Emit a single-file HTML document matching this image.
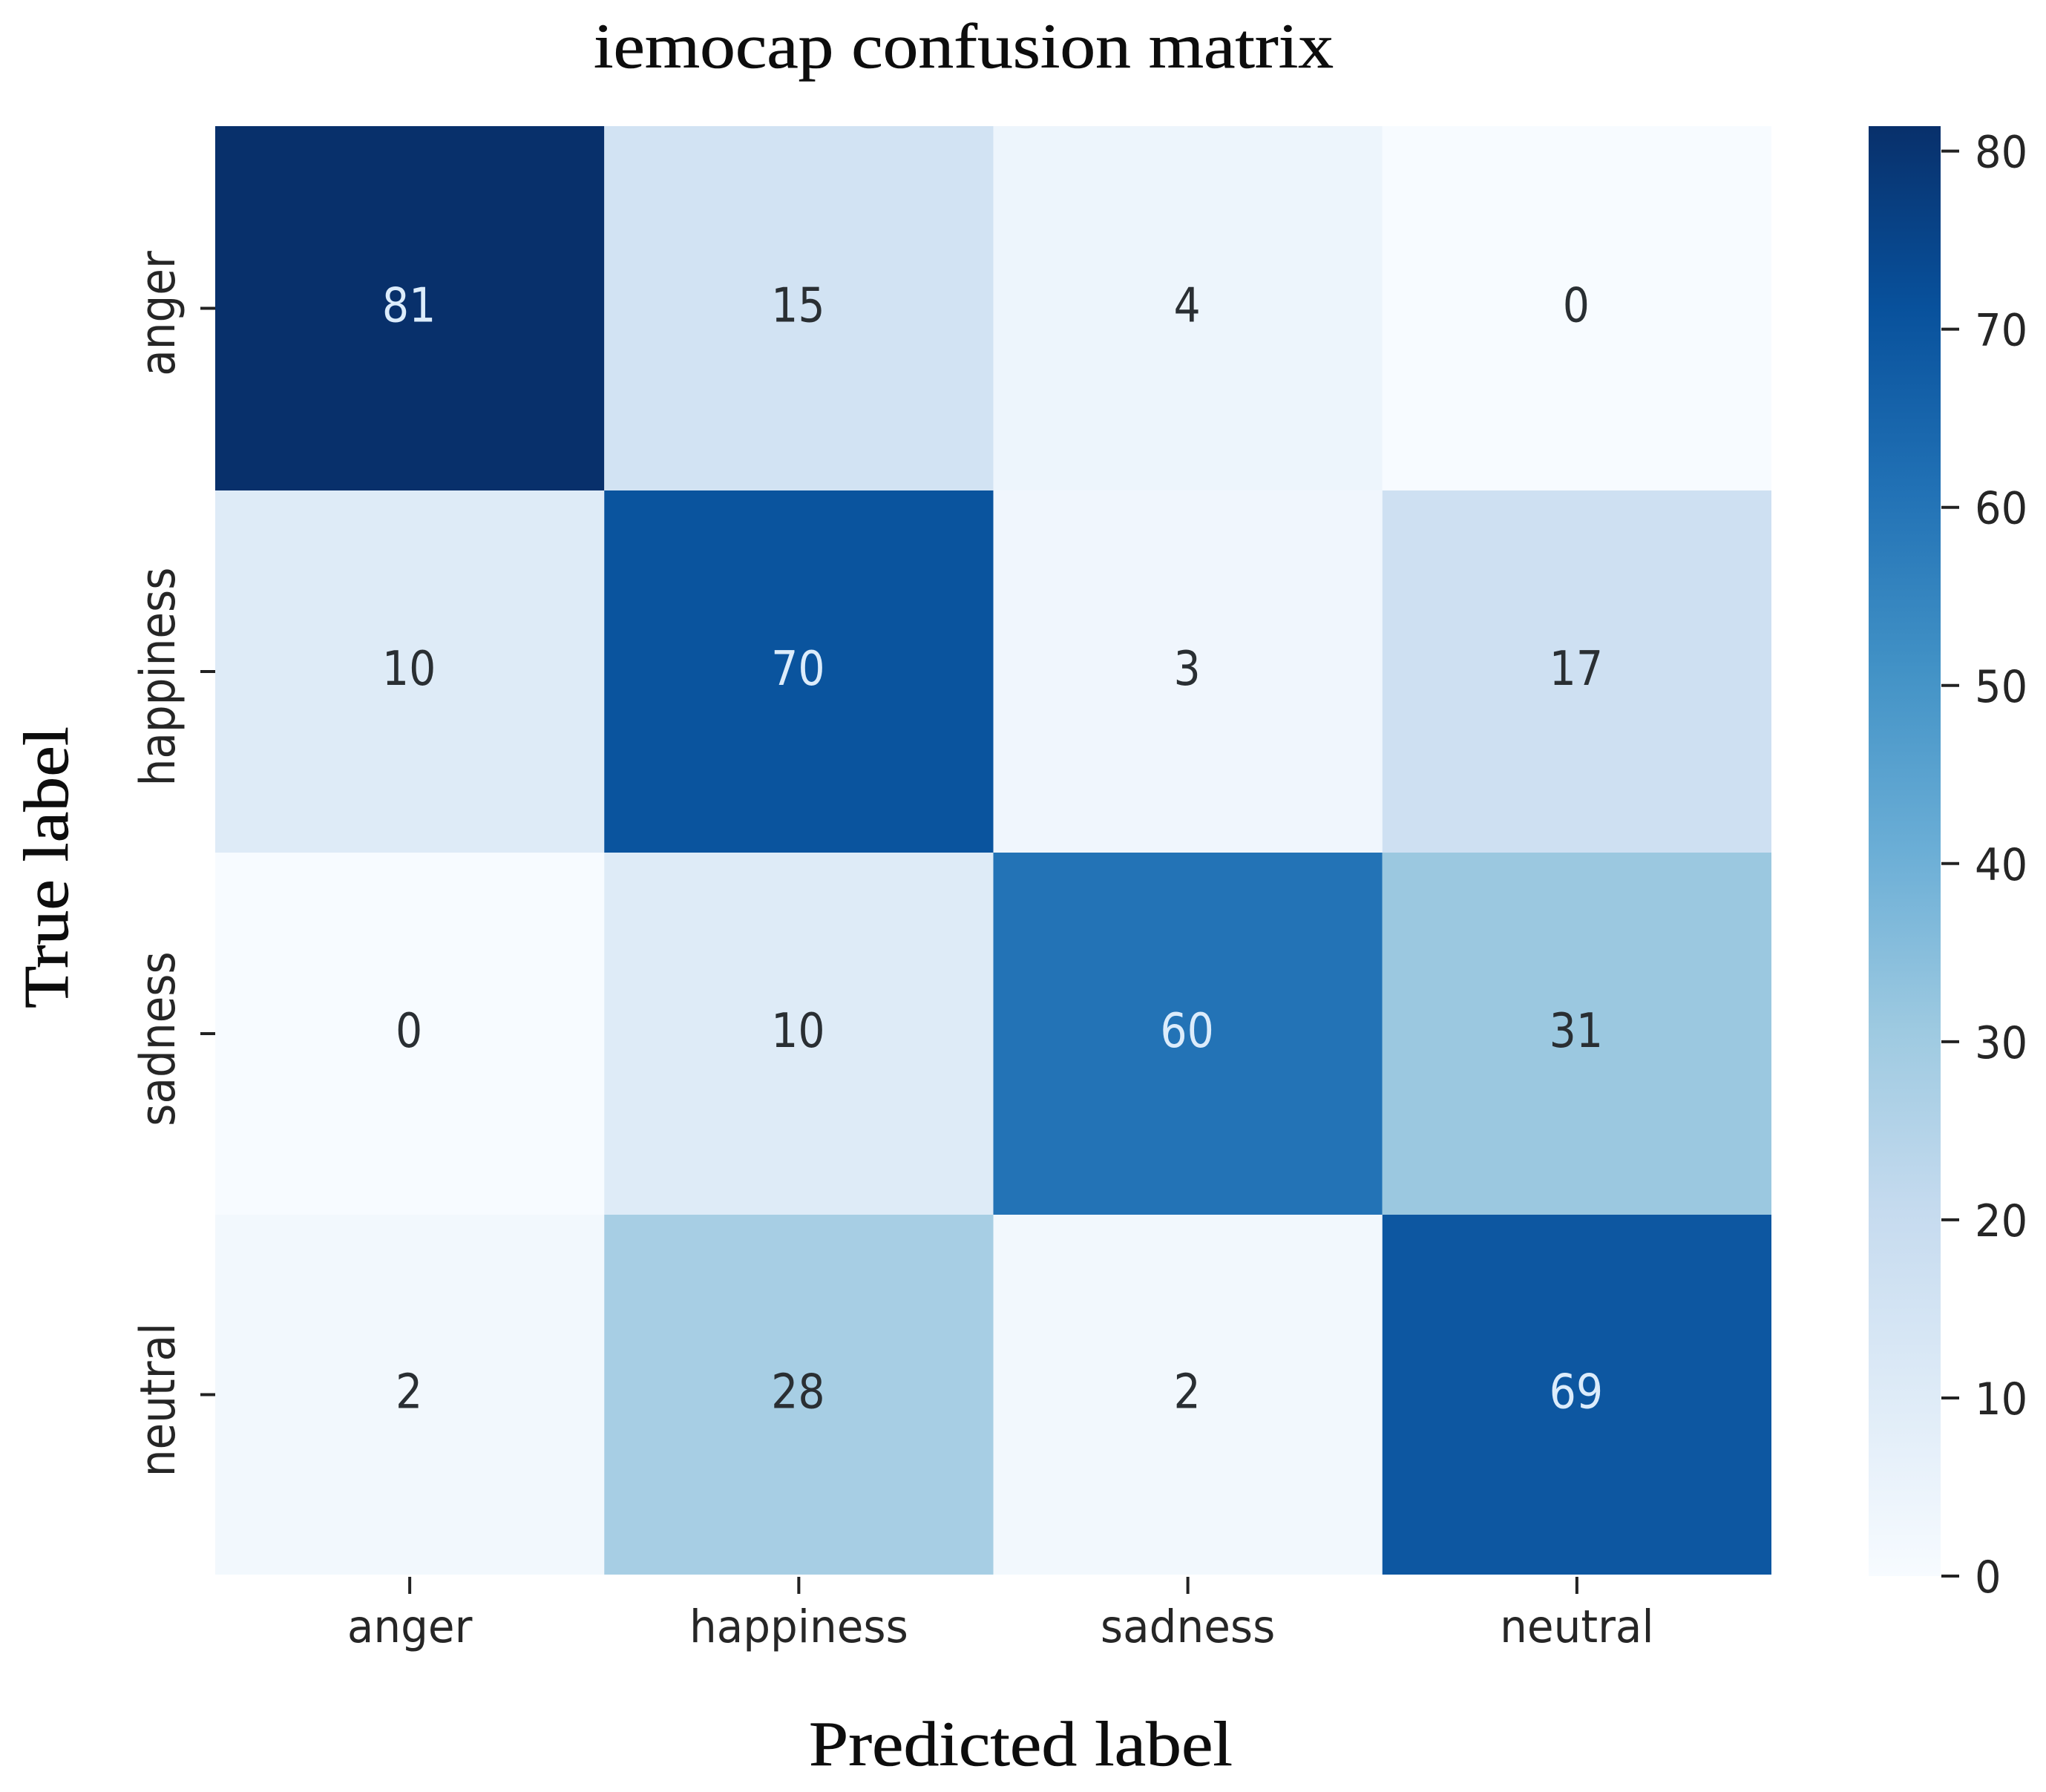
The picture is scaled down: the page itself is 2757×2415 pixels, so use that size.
<!DOCTYPE html>
<html lang="en">
<head>
<meta charset="utf-8">
<title>iemocap confusion matrix</title>
<style>
  html, body { margin: 0; padding: 0; background: #fff; }
  svg { display: block; }
  .sans { font-family: "DejaVu Sans", "Liberation Sans", sans-serif; }
  .serif { font-family: "Liberation Serif", "DejaVu Serif", serif; fill: #0d0d0d; stroke: #0d0d0d; stroke-width: 0.6; }
</style>
</head>
<body>
<svg id="chart" width="2757" height="2415" viewBox="0 0 2757 2415" xmlns="http://www.w3.org/2000/svg">
  <rect width="2757" height="2415" fill="#ffffff"/>
  <defs>
    <linearGradient id="cbarGradient" x1="0" y1="1" x2="0" y2="0"></linearGradient>
  </defs>
  <text class="serif" x="800" y="91" font-size="86" textLength="997" lengthAdjust="spacingAndGlyphs">iemocap confusion matrix</text>
  <text class="serif" x="1090" y="2379" font-size="86" textLength="571" lengthAdjust="spacingAndGlyphs">Predicted label</text>
  <text class="serif" transform="translate(91,1359) rotate(-90)" x="0" y="0" font-size="86" textLength="380" lengthAdjust="spacingAndGlyphs">True label</text>
  <g id="cells"></g>
  <g id="xaxis"></g>
  <g id="yaxis"></g>
  <g id="colorbar"></g>
</svg>
<script>
const categories = ["anger", "happiness", "sadness", "neutral"];
const rowAnger = [81, 15, 4, 0];
const rowHappiness = [10, 70, 3, 17];
const rowSadness = [0, 10, 60, 31];
const rowNeutral = [2, 28, 2, 69];
const matrixRows = [rowAnger, rowHappiness, rowSadness, rowNeutral];
const colorbarTicks = [0, 10, 20, 30, 40, 50, 60, 70, 80];

const blues = ["#f7fbff", "#deebf7", "#c6dbef", "#9ecae1", "#6baed6", "#4292c6", "#2171b5", "#08519c", "#08306b"];
const NS = "http://www.w3.org/2000/svg";
const plot = { left: 290, right: 2387, top: 170, bottom: 2122 };
const bar = { left: 2518, right: 2615 };
const rowSeamShift = 3;

const allValues = matrixRows.flat();
const vMin = Math.min(0, ...allValues);
const vMax = Math.max(...allValues);

function hexToRgb(h) {
  return [parseInt(h.slice(1, 3), 16), parseInt(h.slice(3, 5), 16), parseInt(h.slice(5, 7), 16)];
}
function cmap(v) {
  const t = Math.max(0, Math.min(1, (v - vMin) / ((vMax - vMin) || 1))) * (blues.length - 1);
  const i = Math.min(blues.length - 2, Math.floor(t));
  const a = hexToRgb(blues[i]);
  const b = hexToRgb(blues[i + 1]);
  const f = t - i;
  return "rgb(" + a.map((c, k) => Math.round(c + (b[k] - c) * f)).join(",") + ")";
}
function xBand(i) { return plot.left + (plot.right - plot.left) * i / categories.length; }
function yBand(i) {
  const interior = i > 0 && i < matrixRows.length;
  return plot.top + (plot.bottom - plot.top) * i / matrixRows.length + (interior ? rowSeamShift : 0);
}
const barValueMax = vMax + 0.4;
function barY(v) { return 2124 - (v - vMin) * (2124 - plot.top) / (barValueMax - vMin); }
function make(tag, parent) {
  const el = document.createElementNS(NS, tag);
  parent.appendChild(el);
  return el;
}

const cellsG = document.getElementById("cells");
matrixRows.forEach(function (row, r) {
  row.forEach(function (value, c) {
    const rect = make("rect", cellsG);
    
    
    rect.setAttribute("x", xBand(c));
    rect.setAttribute("y", yBand(r));
    rect.setAttribute("width", xBand(c + 1) - xBand(c));
    rect.setAttribute("height", yBand(r + 1) - yBand(r));
    rect.setAttribute("fill", cmap(value));
  });
});
matrixRows.forEach(function (row, r) {
  row.forEach(function (value, c) {
    const label = make("text", cellsG);
    
    
    label.setAttribute("class", "sans");
    const lx = (xBand(c) + xBand(c + 1)) / 2 - 1;
    const ly = (yBand(r) + yBand(r + 1)) / 2 + 18;
    label.setAttribute("transform", "translate(" + lx + "," + ly + ") scale(1,1.13)");
    label.setAttribute("font-size", "57");
    label.setAttribute("text-anchor", "middle");
    label.setAttribute("fill", (value - vMin) / ((vMax - vMin) || 1) > 0.6 ? "#dcecfb" : "#2a2f33");
    label.textContent = value;
  });
});

const xG = document.getElementById("xaxis");
categories.forEach(function (name, i) {
  const cx = (xBand(i) + xBand(i + 1)) / 2;
  const tick = make("line", xG);
  
  
  tick.setAttribute("x1", cx);
  tick.setAttribute("x2", cx);
  tick.setAttribute("y1", plot.bottom + 3);
  tick.setAttribute("y2", plot.bottom + 26);
  tick.setAttribute("stroke", "#222");
  tick.setAttribute("stroke-width", "4");
  const label = make("text", xG);
  
  
  label.setAttribute("class", "sans");
  label.setAttribute("transform", "translate(" + cx + ",2213) scale(1,1.05)");
  label.setAttribute("font-size", "58");
  label.setAttribute("text-anchor", "middle");
  label.setAttribute("fill", "#262626");
  label.textContent = name;
});

const yG = document.getElementById("yaxis");
categories.forEach(function (name, i) {
  const cy = (yBand(i) + yBand(i + 1)) / 2;
  const tick = make("line", yG);
  
  
  tick.setAttribute("x1", 270);
  tick.setAttribute("x2", plot.left);
  tick.setAttribute("y1", cy);
  tick.setAttribute("y2", cy);
  tick.setAttribute("stroke", "#222");
  tick.setAttribute("stroke-width", "4");
  const label = make("text", yG);
  
  
  label.setAttribute("class", "sans");
  label.setAttribute("transform", "translate(235," + (cy + 7) + ") rotate(-90) scale(1,1.12)");
  label.setAttribute("font-size", "58");
  label.setAttribute("text-anchor", "middle");
  label.setAttribute("fill", "#262626");
  label.textContent = name;
});

const grad = document.getElementById("cbarGradient");
blues.forEach(function (color, i) {
  const stop = make("stop", grad);
  stop.setAttribute("offset", (i / (blues.length - 1) * 100) + "%");
  stop.setAttribute("stop-color", color);
});
const cbG = document.getElementById("colorbar");
const barRect = make("rect", cbG);


barRect.setAttribute("x", bar.left);
barRect.setAttribute("y", barY(barValueMax));
barRect.setAttribute("width", bar.right - bar.left);
barRect.setAttribute("height", barY(vMin) - barY(barValueMax));
barRect.setAttribute("fill", "url(#cbarGradient)");
colorbarTicks.forEach(function (value) {
  const y = barY(value);
  const tick = make("line", cbG);
  
  
  tick.setAttribute("x1", bar.right + 1);
  tick.setAttribute("x2", 2640);
  tick.setAttribute("y1", y);
  tick.setAttribute("y2", y);
  tick.setAttribute("stroke", "#222");
  tick.setAttribute("stroke-width", "4");
  const label = make("text", cbG);
  
  
  label.setAttribute("class", "sans");
  label.setAttribute("transform", "translate(2661," + (y + 22) + ") scale(1,1.06)");
  label.setAttribute("font-size", "56");
  label.setAttribute("fill", "#262626");
  label.textContent = value;
});
</script>
</body>
</html>
